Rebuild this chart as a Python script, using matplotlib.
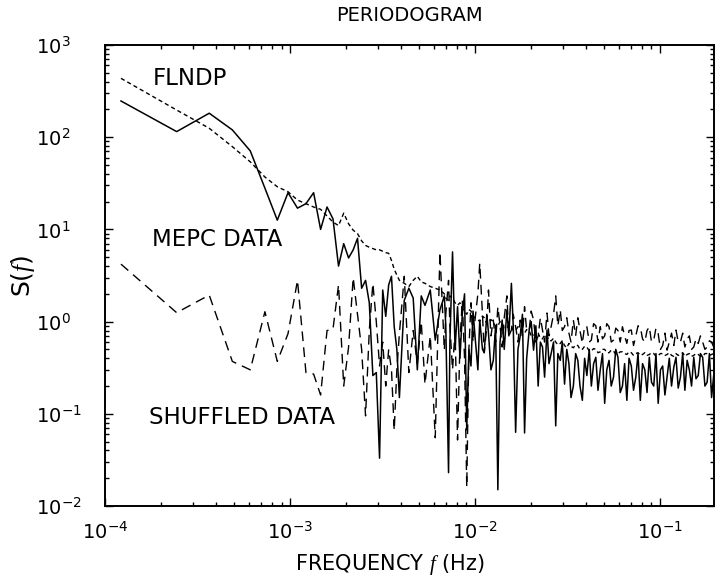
import matplotlib
matplotlib.use('Agg')
import matplotlib.pyplot as plt
import numpy as np

# frequency resolution of the periodogram (Hz) and harmonic numbers
df = 1.22e-4
harmonic = [1, 2, 3, 4, 5, 6, 7, 8, 9, 10,
            11, 12, 13, 14, 15, 16, 17, 18, 19, 20,
            21, 22, 23, 24, 25, 26, 27, 28, 29, 30, 31,
            32, 34, 36, 38, 40, 42, 44, 47, 50, 53,
            56, 57, 59, 60, 62, 64, 66, 68, 70, 72,
            74, 76, 78, 80, 82, 85, 87, 90, 92, 95,
            97, 100, 103, 106, 109, 112, 115, 118, 122, 125,
            129, 132, 136, 140, 144, 148, 152, 156, 161, 165,
            170, 175, 180, 185, 190, 195, 201, 206, 212, 218,
            224, 230, 237, 243, 250, 257, 264, 271, 279, 287,
            295, 303, 312, 321, 330, 340, 349, 359, 369, 379,
            390, 401, 412, 423, 435, 447, 460, 473, 486, 500,
            514, 528, 543, 558, 574, 590, 607, 624, 642, 660,
            679, 698, 718, 738, 759, 780, 802, 825, 848, 872,
            896, 921, 947, 974, 1001, 1029, 1058, 1088, 1118, 1150,
            1182, 1215, 1249, 1284, 1320, 1357, 1395, 1435, 1475, 1517,
            1559, 1600]

mepc = [247, 115, 182, 120, 71, 28, 12.6, 25, 17, 19,
        25, 10, 17.5, 13, 4.0, 7.0, 4.9, 6.0, 8.0, 2.3,
        2.8, 1.6, 0.26, 0.28, 0.033, 2.2, 1.14, 2.5, 3.1, 0.88, 0.5,
        0.15, 1.7, 2.3, 1.8, 0.3, 1.9, 1.5, 2.2, 0.63, 1.34,
        1.9, 0.9, 0.023, 0.6, 5.7, 0.5, 1.45, 0.4, 1.2, 2.0,
        0.067, 0.5, 0.33, 1.3, 0.7, 0.3, 1.04, 0.5, 0.46, 1.2,
        0.75, 0.3, 0.38, 0.9, 0.015, 0.6, 1.04, 0.5, 1.34, 0.7,
        2.6, 0.9, 0.063, 0.5, 0.7, 1.2, 0.062, 0.4, 0.81, 1.0,
        0.49, 0.9, 0.2, 0.6, 0.53, 0.25, 0.81, 0.35, 0.46, 0.6,
        0.074, 0.45, 0.38, 0.6, 0.21, 0.5, 0.35, 0.15, 0.2, 0.45,
        0.38, 0.2, 0.14, 0.4, 0.26, 0.5, 0.2, 0.35, 0.41, 0.18,
        0.3, 0.45, 0.13, 0.3, 0.38, 0.2, 0.25, 0.5, 0.41, 0.17,
        0.2, 0.35, 0.14, 0.4, 0.33, 0.18, 0.25, 0.45, 0.14, 0.35,
        0.3, 0.17, 0.41, 0.22, 0.2, 0.45, 0.13, 0.3, 0.33, 0.16,
        0.25, 0.4, 0.2, 0.32, 0.41, 0.19, 0.25, 0.45, 0.18, 0.38,
        0.3, 0.2, 0.41, 0.24, 0.26, 0.45, 0.41, 0.2, 0.22, 0.45,
        0.15, 0.26]

shuffled = [4.2, 1.25, 1.94, 0.37, 0.30, 1.28, 0.37, 0.74, 2.8, 0.28,
            0.27, 0.16, 0.8, 0.83, 2.5, 0.2, 0.53, 3.0, 1.2, 0.5,
            0.095, 0.8, 2.6, 1.0, 0.33, 0.6, 0.2, 0.5, 0.3, 0.066, 0.3,
            0.74, 3.1, 0.28, 0.8, 0.35, 1.0, 0.21, 0.7, 0.055, 5.7,
            0.49, 1.2, 2.8, 0.9, 0.3, 0.8, 0.052, 0.6, 1.7, 0.4,
            0.016, 0.5, 1.6, 0.6, 1.04, 2.0, 4.3, 1.2, 0.46, 0.9,
            2.2, 0.7, 1.04, 0.6, 1.45, 0.9, 0.53, 1.1, 1.9, 0.7,
            0.81, 1.2, 0.88, 0.6, 1.04, 0.7, 1.45, 0.8, 0.81, 1.3,
            1.04, 0.6, 0.7, 1.1, 0.81, 0.6, 1.24, 0.7, 0.9, 1.2,
            1.9, 0.9, 1.34, 0.8, 0.88, 1.1, 0.75, 0.6, 1.04, 0.7,
            1.1, 0.8, 0.58, 0.9, 0.88, 0.6, 0.63, 0.95, 0.9, 0.6,
            0.88, 0.65, 0.7, 0.95, 0.88, 0.6, 0.63, 0.85, 0.8, 0.6,
            0.88, 0.7, 0.58, 0.8, 0.81, 0.55, 0.7, 0.9, 0.88, 0.65,
            0.6, 0.8, 0.88, 0.6, 0.63, 0.85, 0.74, 0.5, 0.55, 0.75,
            0.49, 0.6, 0.75, 0.55, 0.81, 0.6, 0.6, 0.75, 0.53, 0.65,
            0.7, 0.5, 0.53, 0.65, 0.58, 0.7, 0.6, 0.5, 0.53, 0.62,
            0.6, 0.53]

flndp = [435, 197, 125, 79, 54, 37, 29, 25.6, 20.8, 19,
         17.5, 16.5, 14, 12, 11, 15, 11.5, 9.8, 9.0, 7.5,
         6.7, 6.4, 6.2, 6.0, 6.0, 5.8, 5.6, 5.5, 4.6, 3.7, 3.2,
         2.8, 2.6, 2.4, 2.8, 3.1, 2.7, 2.6, 2.4, 2.3, 2.2,
         2.0, 1.8, 1.7, 1.9, 1.8, 1.6, 1.5, 1.6, 1.4, 1.3,
         1.2, 1.35, 1.3, 1.15, 1.1, 1.05, 1.0, 1.15, 1.1, 0.95,
         0.95, 1.05, 1.0, 0.88, 0.9, 1.0, 0.95, 0.85, 0.85, 0.92,
         0.9, 0.8, 0.8, 0.88, 0.85, 0.75, 0.75, 0.82, 0.8, 0.7,
         0.7, 0.78, 0.75, 0.66, 0.65, 0.72, 0.7, 0.62, 0.62, 0.66,
         0.6, 0.56, 0.58, 0.62, 0.55, 0.52, 0.58, 0.54, 0.52, 0.56,
         0.55, 0.5, 0.5, 0.54, 0.53, 0.48, 0.48, 0.51, 0.5, 0.46,
         0.47, 0.5, 0.5, 0.46, 0.46, 0.49, 0.48, 0.44, 0.45, 0.47,
         0.47, 0.45, 0.44, 0.47, 0.46, 0.43, 0.45, 0.46, 0.43, 0.44,
         0.46, 0.43, 0.44, 0.46, 0.45, 0.42, 0.43, 0.45, 0.45, 0.43,
         0.44, 0.46, 0.43, 0.42, 0.45, 0.43, 0.44, 0.46, 0.42, 0.44,
         0.45, 0.42, 0.43, 0.45, 0.44, 0.42, 0.42, 0.45, 0.45, 0.43,
         0.44, 0.45]

freq = np.array(harmonic) * df

plt.rcParams['font.family'] = ['DejaVu Sans']
plt.rcParams['mathtext.fontset'] = 'custom'
plt.rcParams['mathtext.rm'] = 'DejaVu Sans'
plt.rcParams['mathtext.it'] = 'Liberation Serif:italic'

fig = plt.figure(figsize=(7.2, 5.8), dpi=100)
ax = fig.add_axes([105 / 720, 1 - 506 / 580, 609 / 720, 461 / 580])

ax.plot(freq, flndp, color='black', lw=1.0, dashes=(3, 2.2))
ax.plot(freq, shuffled, color='black', lw=1.0, dashes=(7, 4.5))
ax.plot(freq, mepc, color='black', lw=1.1)

ax.set_xscale('log')
ax.set_yscale('log')
ax.set_xlim(1e-4, 0.196)
ax.set_ylim(1e-2, 1e3)

for s in ax.spines.values():
    s.set_linewidth(1.4)

ax.tick_params(which='both', direction='in', top=True, right=True, width=1.0)
ax.tick_params(which='major', length=6)
ax.tick_params(which='minor', length=3)
ax.tick_params(axis='x', which='major', labelsize=14, pad=11)
ax.tick_params(axis='y', which='major', labelsize=14, pad=50)
for lab in ax.get_yticklabels():
    lab.set_horizontalalignment('left')

ax.text(0.079, 0.928, 'FLNDP', transform=ax.transAxes, fontsize=16.5,
        va='center', ha='left')
ax.text(0.077, 0.579, 'MEPC DATA', transform=ax.transAxes, fontsize=16.5,
        va='center', ha='left')
ax.text(0.072, 0.193, 'SHUFFLED DATA', transform=ax.transAxes, fontsize=16.5,
        va='center', ha='left')

ax.set_title('PERIODOGRAM', fontsize=14, pad=17)
ax.set_xlabel(r'FREQUENCY $f$ (Hz)', fontsize=15)
ax.xaxis.set_label_coords(0.468, -0.10)
ax.set_ylabel(r'S($f$)', fontsize=18)
ax.yaxis.set_label_coords(-0.112, 0.5)

fig.savefig('out.png', dpi=100)
